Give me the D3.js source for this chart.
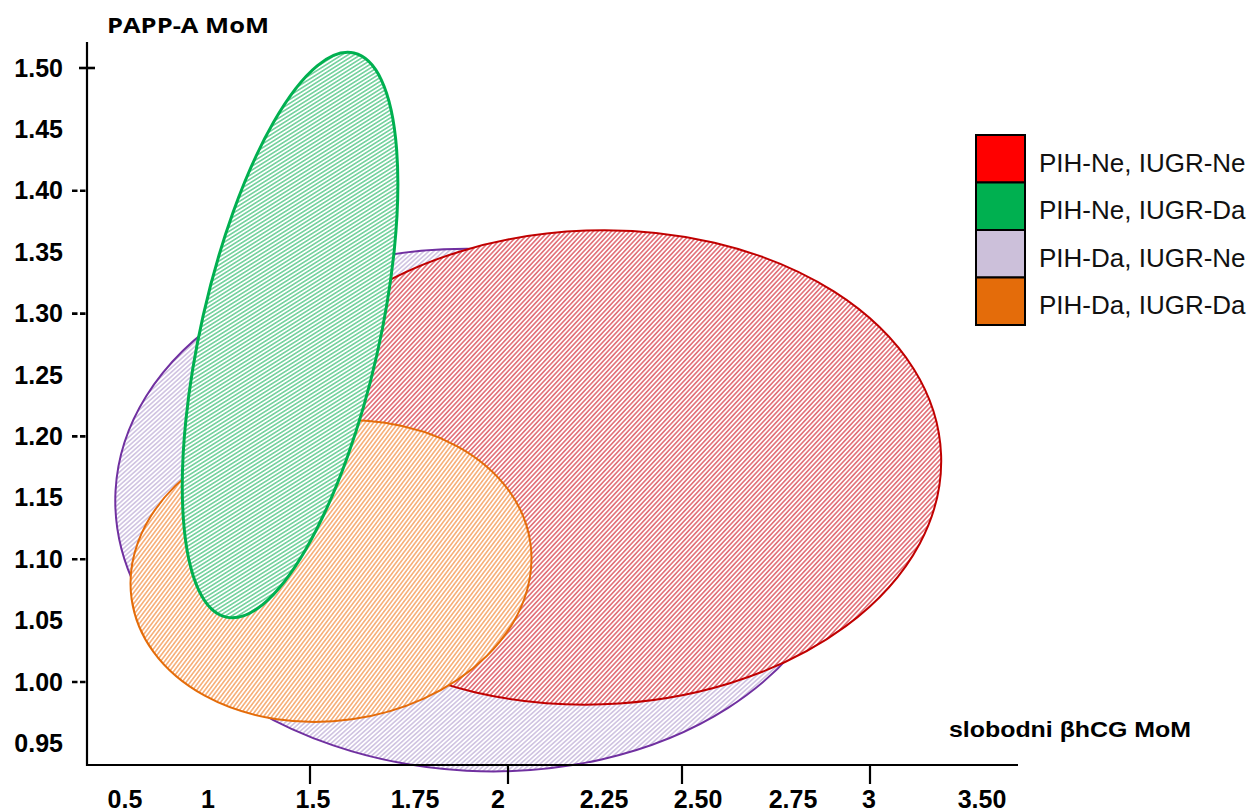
<!DOCTYPE html>
<html>
<head>
<meta charset="utf-8">
<script src="https://cdn.jsdelivr.net/npm/d3@7/dist/d3.min.js"></script>
<style>
  html, body { margin: 0; padding: 0; background: #fff; }
  svg { display: block; }
</style>
</head>
<body>
<svg id="chart" width="1254" height="811"></svg>
<script>
// ---------------- DATA ----------------
const series = ["PIH-Ne, IUGR-Ne", "PIH-Ne, IUGR-Da", "PIH-Da, IUGR-Ne", "PIH-Da, IUGR-Da"];
// extent of each ellipse (before tilt) in data units
const ellXMin = [1.19, 0.958, 0.44, 0.528];
const ellXMax = [3.32, 1.662, 2.921, 2.081];
const ellYMin = [0.9817, 1.047, 0.9275, 0.9684];
const ellYMax = [1.3677, 1.518, 1.3526, 1.2124];
const ellTilt = [-2, 12.76, 3, -8];          // degrees
const drawOrder = [2, 0, 3, 1];

const xTickValues = [0.5, 1, 1.5, 1.75, 2, 2.25, 2.5, 2.75, 3, 3.5];
const xTickLabels = ["0.5", "1", "1.5", "1.75", "2", "2.25", "2.50", "2.75", "3", "3.50"];
const xTickMarks = [1.5, 2, 2.5, 3];
const yTickValues = [1.50, 1.45, 1.40, 1.35, 1.30, 1.25, 1.20, 1.15, 1.10, 1.05, 1.00, 0.95];
const yTickLabels = ["1.50", "1.45", "1.40", "1.35", "1.30", "1.25", "1.20", "1.15", "1.10", "1.05", "1.00", "0.95"];
const yCrossTick = [1.50];
const yDashTicks = [1.40, 1.30, 1.20, 1.10, 1.00];

const swatchColors = ["#ff0000", "#00b050", "#ccc0da", "#e46c0a"];
const strokeColors = ["#c00000", "#00b050", "#7030a0", "#e46c0a"];
const hatchColors = ["#d8404c", "#45c27c", "#c0b0d8", "#f3954d"];

// ---------------- SCALES ----------------
const svg = d3.select("#chart");
// axis drawn with uneven label spacing (as in the source figure)
const x = d3.scaleLinear().domain(xTickValues).range([125, 208, 313, 415, 498, 604, 698, 793, 869, 982]);
const xTick = d3.scaleLinear().domain(xTickMarks).range([310, 508, 682, 870]);
const y = d3.scaleLinear().domain([1.0, 1.5]).range([682, 68]);

// ---------------- PATTERNS ----------------
const defs = svg.append("defs");
series.forEach((s, i) => {
  const p = defs.append("pattern")
    .attr("id", "hatch" + i)
    .attr("patternUnits", "userSpaceOnUse")
    .attr("width", 3.3).attr("height", 3.3)
    .attr("patternTransform", "rotate(45)");
  p.append("rect").attr("width", 3.3).attr("height", 3.3).attr("fill", "#fff");
  p.append("line").attr("x1", 1.65).attr("x2", 1.65).attr("y1", -1).attr("y2", 4.3)
    .attr("stroke", hatchColors[i]).attr("stroke-width", 1.2);
});

// ---------------- ELLIPSES ----------------
const gE = svg.append("g");
drawOrder.forEach(i => {
  const x0 = x(ellXMin[i]), x1 = x(ellXMax[i]);
  const y0 = y(ellYMax[i]), y1 = y(ellYMin[i]);
  const cx = (x0 + x1) / 2, cy = (y0 + y1) / 2;
  gE.append("ellipse")
    .attr("cx", cx).attr("cy", cy)
    .attr("rx", (x1 - x0) / 2).attr("ry", (y1 - y0) / 2)
    .attr("transform", `rotate(${ellTilt[i]} ${cx} ${cy})`)
    .attr("fill", `url(#hatch${i})`)
    .attr("stroke", strokeColors[i])
    .attr("stroke-width", i === 1 ? 3 : 2);
});

// ---------------- AXES ----------------
const axisX = 87, axisY = 765;
const gA = svg.append("g").attr("stroke", "#000");
gA.append("line").attr("x1", axisX).attr("x2", axisX).attr("y1", 42).attr("y2", axisY + 1).attr("stroke-width", 2.2);
gA.append("line").attr("x1", axisX - 1).attr("x2", 1018).attr("y1", axisY).attr("y2", axisY).attr("stroke-width", 2.2);

gA.selectAll(".xt").data(xTickMarks).join("line")
  .attr("x1", d => xTick(d)).attr("x2", d => xTick(d))
  .attr("y1", axisY).attr("y2", axisY + 19).attr("stroke-width", 2.2);

gA.selectAll(".yc").data(yCrossTick).join("line")
  .attr("x1", axisX - 8).attr("x2", axisX + 8)
  .attr("y1", d => y(d)).attr("y2", d => y(d)).attr("stroke-width", 2.6);

gA.selectAll(".yd").data(yDashTicks).join("line")
  .attr("x1", axisX - 15).attr("x2", axisX)
  .attr("y1", d => y(d)).attr("y2", d => y(d))
  .attr("stroke-width", 2.6).attr("stroke-dasharray", "5.5,2.5");

const tickFont = "'Liberation Sans', Arial, sans-serif";
svg.append("g").selectAll("text").data(yTickValues).join("text")
  .attr("x", 63).attr("y", d => y(d) + 8.5)
  .attr("text-anchor", "end")
  .attr("font-family", tickFont).attr("font-weight", "bold").attr("font-size", 25)
  .text((d, i) => yTickLabels[i]);

svg.append("g").selectAll("text").data(xTickValues).join("text")
  .attr("x", d => x(d)).attr("y", 808)
  .attr("text-anchor", "middle")
  .attr("font-family", tickFont).attr("font-weight", "bold").attr("font-size", 25)
  .text((d, i) => xTickLabels[i]);

svg.append("text")
  .attr("x", 107).attr("y", 33)
  .attr("font-family", "'Open Sans', sans-serif").attr("font-weight", "bold").attr("font-size", 22)
  .attr("textLength", 162).attr("lengthAdjust", "spacingAndGlyphs")
  .text("PAPP-A MoM");

svg.append("text")
  .attr("x", 949).attr("y", 737)
  .attr("font-family", tickFont).attr("font-weight", "bold").attr("font-size", 22)
  .attr("textLength", 242).attr("lengthAdjust", "spacingAndGlyphs")
  .text("slobodni βhCG MoM");

// ---------------- LEGEND ----------------
const lg = svg.append("g");
const lx = 976, ly = 135, lw = 49, lh = 47.5;
lg.selectAll("rect").data(series).join("rect")
  .attr("x", lx).attr("y", (d, i) => ly + i * lh)
  .attr("width", lw).attr("height", lh)
  .attr("fill", (d, i) => swatchColors[i])
  .attr("stroke", "#000").attr("stroke-width", 2);
lg.selectAll("text").data(series).join("text")
  .attr("x", 1039).attr("y", (d, i) => ly + i * lh + lh / 2 + 13)
  .attr("font-family", tickFont).attr("font-size", 26)
  .attr("fill", "#111")
  .text(d => d);
</script>
</body>
</html>
